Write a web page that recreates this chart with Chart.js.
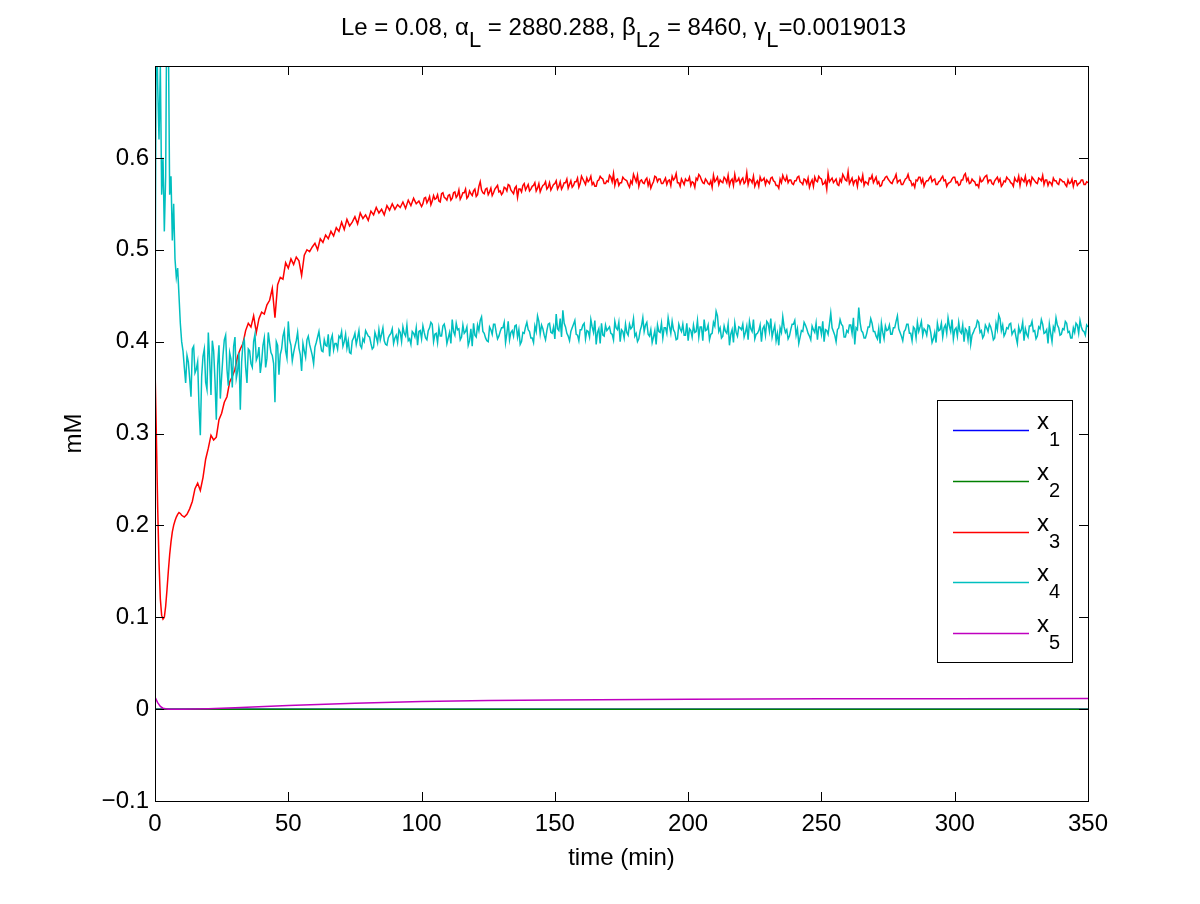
<!DOCTYPE html>
<html>
<head>
<meta charset="utf-8">
<title>mM vs time</title>
<script src="https://cdn.jsdelivr.net/npm/chart.js@4.4.1/dist/chart.umd.min.js"></script>
<style>
  html, body { margin: 0; padding: 0; background: #fff; }
  canvas { display: block; }
</style>
</head>
<body>
<canvas id="chart" width="1200" height="904"></canvas>
<script>
// --- data ---

// fine sampling for the first 10 minutes (min)
const tEarly = [0, 0.5, 1, 1.5, 2, 2.5, 3, 3.5, 4, 4.5, 5, 5.5, 6, 6.5, 7, 7.5, 8, 8.5, 9, 9.5, 10];
// whole minutes 11..350, plus the half minutes in between for the noisy traces
const tMain = Array.from({ length: 340 }, (_, i) => 11 + i);
const tHalf3 = Array.from({ length: 250 }, (_, i) => 100.5 + i);
const tHalf4 = Array.from({ length: 340 }, (_, i) => 10.5 + i);

const x3Early = [0.373, 0.300, 0.220, 0.160, 0.120, 0.102, 0.098, 0.100, 0.112, 0.130, 0.150,
  0.168, 0.182, 0.193, 0.200, 0.205, 0.209, 0.212, 0.214, 0.213, 0.211];
const x3Main = [
  0.209, 0.212, 0.218, 0.226, 0.240, 0.246, 0.238, 0.252, 0.272, 0.284,
  0.298, 0.293, 0.296, 0.315, 0.322, 0.334, 0.340, 0.356, 0.362, 0.370,
  0.384, 0.392, 0.398, 0.412, 0.420, 0.416, 0.428, 0.410, 0.425, 0.432,
  0.430, 0.440, 0.445, 0.458, 0.426, 0.462, 0.470, 0.468, 0.486, 0.480,
  0.490, 0.484, 0.492, 0.488, 0.472, 0.494, 0.500, 0.498, 0.503, 0.507,
  0.500, 0.512, 0.508, 0.516, 0.512, 0.520, 0.515, 0.524, 0.520, 0.530,
  0.522, 0.533, 0.526, 0.530, 0.536, 0.528, 0.540, 0.534, 0.538, 0.532,
  0.542, 0.538, 0.546, 0.540, 0.544, 0.538, 0.548, 0.543, 0.550, 0.544,
  0.549, 0.546, 0.552, 0.545, 0.554, 0.548, 0.556, 0.550, 0.553, 0.547,
  0.556, 0.551, 0.558, 0.553, 0.555, 0.560, 0.552, 0.562, 0.556, 0.559,
  0.554, 0.562, 0.557, 0.565, 0.558, 0.562, 0.556, 0.564, 0.559, 0.566,
  0.560, 0.574, 0.562, 0.566, 0.560, 0.567, 0.562, 0.568, 0.563, 0.560,
  0.568, 0.564, 0.570, 0.563, 0.567, 0.557, 0.566, 0.570, 0.565, 0.571,
  0.566, 0.570, 0.564, 0.572, 0.567, 0.571, 0.566, 0.573, 0.568, 0.572,
  0.566, 0.574, 0.569, 0.573, 0.567, 0.575, 0.570, 0.574, 0.568, 0.580,
  0.574, 0.578, 0.576, 0.571, 0.569, 0.575, 0.580, 0.577, 0.572, 0.574,
  0.579, 0.583, 0.576, 0.570, 0.573, 0.577, 0.575, 0.568, 0.572, 0.578,
  0.581, 0.575, 0.573, 0.576, 0.570, 0.567, 0.574, 0.579, 0.577, 0.572,
  0.575, 0.571, 0.576, 0.580, 0.578, 0.573, 0.569, 0.574, 0.577, 0.575,
  0.570, 0.573, 0.578, 0.582, 0.576, 0.572, 0.575, 0.571, 0.568, 0.574,
  0.579, 0.576, 0.573, 0.577, 0.581, 0.575, 0.570, 0.574, 0.578, 0.576,
  0.572, 0.584, 0.577, 0.573, 0.569, 0.575, 0.579, 0.576, 0.571, 0.574,
  0.578, 0.575, 0.570, 0.567, 0.573, 0.577, 0.580, 0.576, 0.572, 0.575,
  0.579, 0.574, 0.571, 0.576, 0.578, 0.573, 0.569, 0.575, 0.580, 0.577,
  0.572, 0.566, 0.574, 0.578, 0.575, 0.571, 0.577, 0.582, 0.576, 0.585,
  0.575, 0.571, 0.576, 0.579, 0.574, 0.570, 0.573, 0.578, 0.581, 0.576,
  0.572, 0.569, 0.575, 0.579, 0.577, 0.573, 0.576, 0.582, 0.575, 0.571,
  0.574, 0.578, 0.576, 0.570, 0.568, 0.575, 0.579, 0.577, 0.573, 0.575,
  0.580, 0.576, 0.571, 0.574, 0.578, 0.575, 0.569, 0.573, 0.577, 0.579,
  0.574, 0.571, 0.576, 0.583, 0.578, 0.573, 0.575, 0.570, 0.568, 0.574,
  0.578, 0.581, 0.576, 0.572, 0.575, 0.579, 0.577, 0.571, 0.574, 0.577,
  0.573, 0.569, 0.575, 0.580, 0.578, 0.574, 0.571, 0.576, 0.579, 0.575,
  0.572, 0.577, 0.581, 0.576, 0.570, 0.573, 0.578, 0.575, 0.571, 0.576,
  0.574, 0.569, 0.572, 0.577, 0.575, 0.570, 0.573, 0.576, 0.571, 0.573
];
const x3Half = [
  0.550, 0.557, 0.554, 0.549, 0.559, 0.556, 0.553, 0.561, 0.557, 0.554,
  0.560, 0.556, 0.563, 0.559, 0.555, 0.562, 0.566, 0.558, 0.561, 0.564,
  0.558, 0.569, 0.565, 0.561, 0.567, 0.563, 0.559, 0.566, 0.570, 0.564,
  0.562, 0.567, 0.571, 0.565, 0.561, 0.569, 0.566, 0.563, 0.572, 0.568,
  0.564, 0.569, 0.573, 0.567, 0.563, 0.570, 0.574, 0.568, 0.565, 0.571,
  0.575, 0.569, 0.566, 0.573, 0.577, 0.571, 0.568, 0.574, 0.578, 0.572,
  0.577, 0.571, 0.574, 0.580, 0.573, 0.569, 0.576, 0.578, 0.572, 0.575,
  0.581, 0.574, 0.570, 0.577, 0.573, 0.579, 0.576, 0.571, 0.575, 0.582,
  0.574, 0.569, 0.576, 0.572, 0.578, 0.575, 0.571, 0.580, 0.574, 0.577,
  0.572, 0.578, 0.575, 0.570, 0.576, 0.583, 0.573, 0.577, 0.571, 0.575,
  0.579, 0.574, 0.568, 0.576, 0.580, 0.573, 0.577, 0.572, 0.575, 0.581,
  0.576, 0.571, 0.574, 0.579, 0.573, 0.570, 0.577, 0.582, 0.575, 0.572,
  0.578, 0.574, 0.571, 0.576, 0.580, 0.573, 0.569, 0.575, 0.578, 0.576,
  0.572, 0.579, 0.574, 0.570, 0.577, 0.581, 0.575, 0.573, 0.576, 0.571,
  0.575, 0.580, 0.573, 0.577, 0.572, 0.568, 0.576, 0.579, 0.574, 0.578,
  0.571, 0.575, 0.583, 0.576, 0.573, 0.577, 0.570, 0.574, 0.579, 0.575,
  0.572, 0.578, 0.575, 0.569, 0.576, 0.581, 0.574, 0.571, 0.577, 0.573,
  0.579, 0.574, 0.570, 0.576, 0.580, 0.575, 0.572, 0.578, 0.573, 0.576,
  0.571, 0.577, 0.582, 0.575, 0.572, 0.576, 0.579, 0.573, 0.569, 0.575,
  0.578, 0.574, 0.577, 0.571, 0.575, 0.580, 0.576, 0.572, 0.574, 0.579,
  0.573, 0.570, 0.576, 0.581, 0.575, 0.572, 0.577, 0.574, 0.571, 0.578,
  0.575, 0.580, 0.573, 0.576, 0.571, 0.577, 0.574, 0.569, 0.575, 0.579,
  0.576, 0.572, 0.578, 0.574, 0.570, 0.576, 0.580, 0.575, 0.571, 0.577,
  0.573, 0.578, 0.575, 0.571, 0.576, 0.574, 0.570, 0.575, 0.572, 0.577,
  0.574, 0.571, 0.576, 0.573, 0.569, 0.575, 0.572, 0.576, 0.571, 0.574
];

const x4Early = [0.400, 0.780, 0.680, 0.620, 0.700, 0.560, 0.600, 0.520, 0.580, 0.800, 0.740,
  0.560, 0.580, 0.510, 0.550, 0.490, 0.470, 0.480, 0.450, 0.420, 0.400];
const x4Main = [
  0.372, 0.385, 0.360, 0.392, 0.366, 0.378, 0.298, 0.384, 0.356, 0.410,
  0.342, 0.390, 0.315, 0.396, 0.362, 0.402, 0.370, 0.388, 0.350, 0.405,
  0.368, 0.326, 0.398, 0.372, 0.392, 0.376, 0.400, 0.380, 0.394, 0.378,
  0.404, 0.382, 0.398, 0.385, 0.334, 0.396, 0.386, 0.406, 0.390, 0.422,
  0.396, 0.388, 0.401, 0.393, 0.368, 0.390, 0.402, 0.397, 0.385, 0.394,
  0.405, 0.399, 0.389, 0.396, 0.408, 0.402, 0.391, 0.398, 0.406, 0.411,
  0.400, 0.393, 0.388, 0.401, 0.409, 0.404, 0.396, 0.403, 0.412, 0.406,
  0.398, 0.394, 0.405, 0.413, 0.408, 0.401, 0.396, 0.407, 0.414, 0.404,
  0.399, 0.410, 0.416, 0.406, 0.401, 0.397, 0.409, 0.415, 0.411, 0.403,
  0.410, 0.402, 0.415, 0.419, 0.408, 0.399, 0.406, 0.417, 0.412, 0.404,
  0.398, 0.411, 0.420, 0.414, 0.405, 0.409, 0.416, 0.401, 0.395, 0.407,
  0.418, 0.423, 0.411, 0.404, 0.400, 0.413, 0.419, 0.410, 0.406, 0.415,
  0.421, 0.409, 0.402, 0.412, 0.417, 0.405, 0.397, 0.410, 0.416, 0.413,
  0.404, 0.399, 0.411, 0.422, 0.418, 0.407, 0.412, 0.420, 0.409, 0.403,
  0.414, 0.425, 0.434, 0.416, 0.406, 0.411, 0.419, 0.408, 0.401, 0.413,
  0.420, 0.412, 0.405, 0.416, 0.423, 0.410, 0.398, 0.407, 0.418, 0.414,
  0.409, 0.402, 0.415, 0.421, 0.413, 0.404, 0.410, 0.419, 0.416, 0.406,
  0.400, 0.412, 0.426, 0.418, 0.408, 0.413, 0.405, 0.397, 0.411, 0.420,
  0.415, 0.409, 0.417, 0.422, 0.410, 0.403, 0.414, 0.419, 0.407, 0.401,
  0.412, 0.418, 0.411, 0.405, 0.416, 0.424, 0.413, 0.402, 0.409, 0.417,
  0.428, 0.415, 0.406, 0.411, 0.419, 0.408, 0.399, 0.410, 0.416, 0.413,
  0.405, 0.417, 0.422, 0.411, 0.403, 0.409, 0.418, 0.414, 0.407, 0.420,
  0.425, 0.412, 0.401, 0.396, 0.410, 0.416, 0.413, 0.406, 0.419, 0.423,
  0.414, 0.405, 0.411, 0.418, 0.409, 0.402, 0.413, 0.420, 0.416, 0.408,
  0.400, 0.412, 0.419, 0.415, 0.407, 0.413, 0.424, 0.417, 0.405, 0.410,
  0.418, 0.426, 0.415, 0.437, 0.412, 0.404, 0.409, 0.416, 0.420, 0.411,
  0.403, 0.398, 0.410, 0.417, 0.413, 0.408, 0.415, 0.422, 0.414, 0.406,
  0.411, 0.419, 0.409, 0.401, 0.414, 0.421, 0.416, 0.407, 0.412, 0.418,
  0.410, 0.403, 0.399, 0.412, 0.420, 0.415, 0.409, 0.417, 0.424, 0.413,
  0.406, 0.411, 0.418, 0.414, 0.402, 0.397, 0.410, 0.416, 0.421, 0.412,
  0.407, 0.415, 0.419, 0.410, 0.404, 0.413, 0.425, 0.418, 0.409, 0.414,
  0.420, 0.411, 0.405, 0.416, 0.413, 0.401, 0.408, 0.417, 0.422, 0.412,
  0.406, 0.414, 0.419, 0.410, 0.398, 0.409, 0.416, 0.426, 0.415, 0.408,
  0.413, 0.420, 0.411, 0.404, 0.410, 0.418, 0.423, 0.412, 0.407, 0.416
];
const x4Half = [
  0.390, 0.355, 0.378, 0.340, 0.395, 0.370, 0.330, 0.362, 0.392, 0.348,
  0.380, 0.401, 0.358, 0.374, 0.338, 0.385, 0.407, 0.352, 0.381, 0.395,
  0.360, 0.388, 0.378, 0.402, 0.355, 0.390, 0.372, 0.408, 0.384, 0.366,
  0.396, 0.372, 0.410, 0.388, 0.376, 0.400, 0.364, 0.392, 0.412, 0.382,
  0.402, 0.379, 0.395, 0.410, 0.386, 0.398, 0.383, 0.406, 0.391, 0.376,
  0.399, 0.411, 0.390, 0.402, 0.395, 0.384, 0.407, 0.398, 0.392, 0.404,
  0.395, 0.408, 0.401, 0.387, 0.404, 0.397, 0.412, 0.393, 0.400, 0.409,
  0.405, 0.392, 0.410, 0.399, 0.402, 0.415, 0.397, 0.404, 0.409, 0.398,
  0.407, 0.413, 0.400, 0.409, 0.418, 0.403, 0.411, 0.405, 0.396, 0.412,
  0.417, 0.404, 0.412, 0.421, 0.400, 0.409, 0.415, 0.406, 0.419, 0.398,
  0.410, 0.424, 0.407, 0.413, 0.402, 0.418, 0.411, 0.396, 0.414, 0.420,
  0.405, 0.412, 0.427, 0.409, 0.401, 0.416, 0.408, 0.419, 0.403, 0.411,
  0.415, 0.399, 0.422, 0.410, 0.406, 0.418, 0.413, 0.400, 0.409, 0.421,
  0.411, 0.404, 0.417, 0.428, 0.408, 0.414, 0.402, 0.419, 0.410, 0.416,
  0.430, 0.412, 0.405, 0.420, 0.409, 0.401, 0.415, 0.423, 0.407, 0.413,
  0.418, 0.403, 0.411, 0.424, 0.410, 0.397, 0.414, 0.420, 0.406, 0.412,
  0.416, 0.408, 0.422, 0.413, 0.400, 0.411, 0.419, 0.407, 0.414, 0.425,
  0.409, 0.403, 0.417, 0.411, 0.421, 0.406, 0.399, 0.412, 0.418, 0.410,
  0.404, 0.415, 0.426, 0.409, 0.413, 0.402, 0.419, 0.411, 0.407, 0.420,
  0.414, 0.405, 0.410, 0.423, 0.416, 0.401, 0.412, 0.418, 0.408, 0.421,
  0.433, 0.411, 0.404, 0.417, 0.409, 0.396, 0.413, 0.420, 0.406, 0.415,
  0.419, 0.410, 0.402, 0.414, 0.424, 0.408, 0.412, 0.400, 0.417, 0.422,
  0.411, 0.405, 0.418, 0.409, 0.415, 0.427, 0.410, 0.403, 0.413, 0.419,
  0.407, 0.398, 0.412, 0.421, 0.414, 0.406, 0.417, 0.410, 0.402, 0.416,
  0.422, 0.413, 0.408, 0.431, 0.411, 0.400, 0.415, 0.419, 0.405, 0.412,
  0.418, 0.409, 0.397, 0.413, 0.421, 0.410, 0.404, 0.416, 0.425, 0.411,
  0.406, 0.414, 0.420, 0.403, 0.412, 0.418, 0.408, 0.415, 0.428, 0.410,
  0.401, 0.413, 0.419, 0.409, 0.416, 0.404, 0.411, 0.422, 0.414, 0.407,
  0.417, 0.399, 0.410, 0.420, 0.413, 0.405, 0.418, 0.426, 0.411, 0.403,
  0.415, 0.421, 0.409, 0.400, 0.412, 0.417, 0.407, 0.414, 0.423, 0.410,
  0.404, 0.418, 0.411, 0.416, 0.402, 0.420, 0.429, 0.412, 0.406, 0.415,
  0.419, 0.408, 0.413, 0.398, 0.410, 0.421, 0.414, 0.405, 0.417, 0.411,
  0.403, 0.416, 0.424, 0.409, 0.413, 0.419, 0.400, 0.412, 0.418, 0.407,
  0.414, 0.422, 0.410, 0.404, 0.415, 0.420, 0.409, 0.416, 0.411, 0.418
];

// slow species, sparse samples are enough
const t5 = [0, 1, 2, 3, 5, 10, 20, 30, 50, 75, 100, 125, 150, 200, 250, 300, 350];
const x5 = [0.013, 0.007, 0.003, 0.001, 0.0, 0.0, 0.0005, 0.0015, 0.004, 0.0065, 0.0082, 0.0093, 0.0100, 0.0108, 0.0112, 0.0114, 0.0115];
const tFlat = [0, 100, 200, 350];
const x1 = [0.0, 0.0, 0.0, 0.0];
const x2 = [0.0, 0.0, 0.0, 0.0];

const seriesNames = ['1', '2', '3', '4', '5'];
const seriesColors = ['#0000ff', '#008000', '#ff0000', '#00bfbf', '#bf00bf'];

const titleParts = [
  { text: 'Le = 0.08, \u03b1' }, { text: 'L', sub: true },
  { text: ' = 2880.288, \u03b2' }, { text: 'L2', sub: true },
  { text: ' = 8460, \u03b3' }, { text: 'L', sub: true },
  { text: '=0.0019013' }
];

const FONT = '"Liberation Sans", Arial, Helvetica, sans-serif';

function toPoints(ts, vs) {
  return ts.map((t, i) => ({ x: t, y: vs[i] }));
}

// join whole-minute and half-minute samples into one time-ordered trace
function merged(...parts) {
  return [].concat(...parts).sort((a, b) => a.x - b.x);
}

// draws a run of text pieces, some lowered as subscripts
function drawRich(ctx, parts, x, y, size, subSize, subDrop, align) {
  let w = 0;
  parts.forEach(p => {
    ctx.font = (p.sub ? subSize : size) + 'px ' + FONT;
    w += ctx.measureText(p.text).width;
  });
  let cx = align === 'center' ? x - w / 2 : x;
  ctx.textAlign = 'left';
  ctx.textBaseline = 'alphabetic';
  parts.forEach(p => {
    ctx.font = (p.sub ? subSize : size) + 'px ' + FONT;
    ctx.fillText(p.text, cx, y + (p.sub ? subDrop : 0));
    cx += ctx.measureText(p.text).width;
  });
}

// MATLAB-like frame: box, inward ticks on all sides, legend and title
const matlabFrame = {
  id: 'matlabFrame',
  afterDatasetsDraw(chart) {
    const { ctx, chartArea: a, scales: { x, y } } = chart;
    const tl = 9;
    ctx.save();
    ctx.strokeStyle = '#000';
    ctx.lineWidth = 1;
    ctx.beginPath();
    x.ticks.forEach(tk => {
      const px = Math.round(x.getPixelForValue(tk.value)) + 0.5;
      ctx.moveTo(px, a.bottom); ctx.lineTo(px, a.bottom - tl);
      ctx.moveTo(px, a.top); ctx.lineTo(px, a.top + tl);
    });
    y.ticks.forEach(tk => {
      const py = Math.round(y.getPixelForValue(tk.value)) + 0.5;
      ctx.moveTo(a.left, py); ctx.lineTo(a.left + tl, py);
      ctx.moveTo(a.right, py); ctx.lineTo(a.right - tl, py);
    });
    ctx.stroke();
    ctx.strokeRect(a.left + 0.5, a.top + 0.5, a.right - a.left, a.bottom - a.top);

    // legend box
    const lw = 135, lh = 262;
    const lx = a.right - 16 - lw, ly = a.top + 334;
    ctx.fillStyle = '#fff';
    ctx.fillRect(lx, ly, lw, lh);
    ctx.strokeRect(lx + 0.5, ly + 0.5, lw, lh);
    seriesNames.forEach((name, i) => {
      const ry = Math.round(ly + 30 + i * 50.8) + 0.5;
      ctx.strokeStyle = seriesColors[i];
      ctx.lineWidth = 1.5;
      ctx.beginPath();
      ctx.moveTo(lx + 16, ry);
      ctx.lineTo(lx + 92, ry);
      ctx.stroke();
      ctx.fillStyle = '#000';
      drawRich(ctx, [{ text: 'x' }, { text: name, sub: true }], lx + 100, ry - 2, 24, 20, 17, 'left');
    });

    // title
    ctx.fillStyle = '#000';
    drawRich(ctx, titleParts, (a.left + a.right) / 2 + 2, 35, 24, 22, 12, 'center');
    ctx.restore();
  }
};

function fmtY(v) {
  if (v > 0.65) return '';
  if (Math.abs(v) < 1e-9) return '0';
  return (v < 0 ? '\u2212' : '') + Math.abs(v).toFixed(1);
}

// MATLAB draws later lines on top, so lower "order" goes to the last series
const datasets = [
  { label: 'x1', data: toPoints(tFlat, x1) },
  { label: 'x2', data: toPoints(tFlat, x2) },
  { label: 'x3', data: merged(toPoints(tEarly, x3Early), toPoints(tMain, x3Main), toPoints(tHalf3, x3Half)) },
  { label: 'x4', data: merged(toPoints(tEarly, x4Early), toPoints(tMain, x4Main), toPoints(tHalf4, x4Half)) },
  { label: 'x5', data: toPoints(t5, x5) }
].map((d, i) => Object.assign(d, {
  borderColor: seriesColors[i],
  borderWidth: 1.5,
  pointRadius: 0,
  tension: 0,
  fill: false,
  order: 5 - i
}));

const tickFont = { family: FONT, size: 24 };

const ctx = document.getElementById('chart').getContext('2d');
new Chart(ctx, {
  type: 'line',
  data: { datasets },
  options: {
    responsive: false,
    animation: false,
    devicePixelRatio: 1,
    layout: { padding: { top: 66, right: 112, left: 0, bottom: 0 } },
    plugins: { legend: { display: false }, tooltip: { enabled: false } },
    scales: {
      x: {
        type: 'linear',
        min: 0, max: 350,
        grid: { display: false, drawTicks: false },
        border: { display: false },
        ticks: { stepSize: 50, padding: 9, color: '#000', font: tickFont },
        title: { display: true, text: 'time (min)', color: '#000', font: tickFont, padding: { top: 0, bottom: 31 } },
        afterFit: s => { s.height = 103; }
      },
      y: {
        min: -0.1, max: 0.7,
        grid: { display: false, drawTicks: false },
        border: { display: false },
        ticks: { stepSize: 0.1, padding: 6, color: '#000', font: tickFont, callback: fmtY },
        title: { display: true, text: 'mM', color: '#000', font: tickFont, padding: { top: 60, bottom: 0 } },
        afterFit: s => { s.width = 155; }
      }
    }
  },
  plugins: [matlabFrame]
});
</script>
</body>
</html>
